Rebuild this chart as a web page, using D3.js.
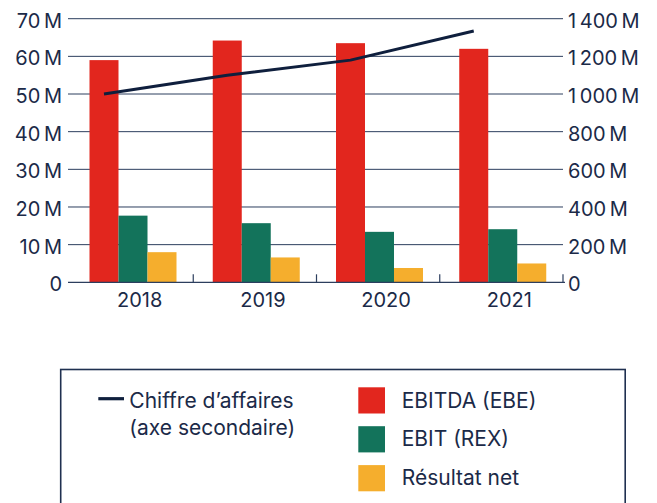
<!DOCTYPE html>
<html>
<head>
<meta charset="utf-8">
<script src="https://cdn.jsdelivr.net/npm/d3@7/dist/d3.min.js"></script>
<style>
  html, body { margin: 0; padding: 0; background: #ffffff; }
  svg { display: block; }
  text { font-family: Inter, "Noto Sans", sans-serif; fill: #1b2a48; }
</style>
</head>
<body>
<svg id="chart" width="657" height="503"></svg>
<script>
// ---- data ----
const years = ["2018", "2019", "2020", "2021"];
const seriesNames = ["EBITDA (EBE)", "EBIT (REX)", "Résultat net"];
const ebitda = [59.0e6, 64.2e6, 63.5e6, 62.0e6];
const ebit = [17.7e6, 15.7e6, 13.4e6, 14.1e6];
const resultatNet = [8.0e6, 6.6e6, 3.8e6, 5.0e6];
const chiffreAffaires = [1000e6, 1100e6, 1180e6, 1335e6];
const leftTicks = [0, 10e6, 20e6, 30e6, 40e6, 50e6, 60e6, 70e6];
const rightTicks = [0, 200e6, 400e6, 600e6, 800e6, 1000e6, 1200e6, 1400e6];
const lineLabel = ["Chiffre d\u2019affaires", "(axe secondaire)"];

// ---- styles ----
const colors = ["#e2261e", "#13735b", "#f5ae2d"];
const navy = "#0f1f3d";
const gridColor = "#2c3e5e";
const axisFont = 20;
const legendFont = 21;

const svg = d3.select("#chart");
const plotL = 70, plotR = 563, plotT = 18.7, plotB = 282.3;

const x = d3.scaleBand().domain(years).range([plotL, plotR]).padding(0);
const xInner = d3.scaleBand().domain(seriesNames).range([19.5, 106.5]).padding(0);
const yL = d3.scaleLinear().domain([0, 70e6]).range([plotB, plotT]);
const yR = d3.scaleLinear().domain([0, 1400e6]).range([plotB, plotT]);

const fmtM = v => {
  const m = Math.round(v / 1e6);
  if (m === 0) return "0";
  const s = m >= 1000 ? Math.floor(m / 1000) + "\u2009" + String(m % 1000).padStart(3, "0") : String(m);
  return s + "\u2009M";
};

// gridlines
svg.append("g").selectAll("line").data(leftTicks.filter(d => d > 0)).join("line")
  .attr("x1", plotL - 2).attr("x2", plotR)
  .attr("y1", d => yL(d)).attr("y2", d => yL(d))
  .attr("stroke", gridColor).attr("stroke-width", 1);

// bars
const seriesData = [ebitda, ebit, resultatNet];
const bars = svg.append("g");
seriesData.forEach((vals, si) => {
  bars.selectAll(null).data(years).join("rect")
    .attr("x", (d) => x(d) + xInner(seriesNames[si]))
    .attr("width", xInner.bandwidth())
    .attr("y", (d, i) => yL(vals[i]))
    .attr("height", (d, i) => yL(0) - yL(vals[i]))
    .attr("fill", colors[si]);
});

// x axis line + ticks at boundaries
svg.append("line").attr("x1", plotL - 2).attr("x2", plotR + 2)
  .attr("y1", plotB).attr("y2", plotB).attr("stroke", gridColor).attr("stroke-width", 1.2);
svg.append("g").selectAll("line").data(years).join("line")
  .attr("x1", d => x(d) + x.bandwidth()).attr("x2", d => x(d) + x.bandwidth())
  .attr("y1", plotB).attr("y2", plotB - 8)
  .attr("stroke", gridColor).attr("stroke-width", 1.2);

// x labels
svg.append("g").selectAll("text").data(years).join("text")
  .attr("x", d => x(d) + x.bandwidth() / 2 + 8)
  .attr("y", plotB + 25)
  .attr("text-anchor", "middle")
  .attr("font-size", axisFont)
  .text(d => d);

// left axis
const axL = svg.append("g").attr("transform", `translate(${plotL},0)`)
  .call(d3.axisLeft(yL).tickValues(leftTicks).tickSize(0).tickPadding(8).tickFormat(fmtM));
axL.select(".domain").remove();
axL.selectAll("text").attr("font-size", axisFont).attr("dy", "0.42em")
  .style("font-family", "Inter, sans-serif").attr("fill", "#1b2a48");

// right axis
const axR = svg.append("g").attr("transform", `translate(${plotR},0)`)
  .call(d3.axisRight(yR).tickValues(rightTicks).tickSize(0).tickPadding(5).tickFormat(fmtM));
axR.select(".domain").remove();
axR.selectAll("text").attr("font-size", axisFont).attr("dy", "0.42em")
  .style("font-family", "Inter, sans-serif").attr("fill", "#1b2a48");

// line (secondary axis)
const lineGen = d3.line()
  .x((d, i) => x(years[i]) + xInner(seriesNames[0]) + xInner.bandwidth() / 2)
  .y(d => yR(d));
svg.append("path").datum(chiffreAffaires)
  .attr("d", lineGen)
  .attr("fill", "none").attr("stroke", navy).attr("stroke-width", 3)
  .attr("stroke-linejoin", "round");

// legend
const lg = svg.append("g");
lg.append("rect").attr("x", 60.7).attr("y", 369.5).attr("width", 564.5).attr("height", 200)
  .attr("fill", "none").attr("stroke", "#1f3050").attr("stroke-width", 1.6);
lg.append("line").attr("x1", 98.3).attr("x2", 124).attr("y1", 398.7).attr("y2", 398.7)
  .attr("stroke", navy).attr("stroke-width", 3.2);
lg.selectAll("text.ll").data(lineLabel).join("text").attr("class", "ll")
  .attr("x", 129.3).attr("y", (d, i) => 407.7 + i * 27.5)
  .attr("font-size", legendFont).text(d => d);
const items = lg.selectAll("g.it").data(seriesNames).join("g").attr("class", "it")
  .attr("transform", (d, i) => `translate(0,${i * 38.9})`);
items.append("rect").attr("x", 358.3).attr("y", 387.3).attr("width", 26.7).attr("height", 26.2)
  .attr("fill", (d, i) => colors[i]);
items.append("text").attr("x", 401.7).attr("y", 407.5).attr("font-size", legendFont).text(d => d);
</script>
</body>
</html>
